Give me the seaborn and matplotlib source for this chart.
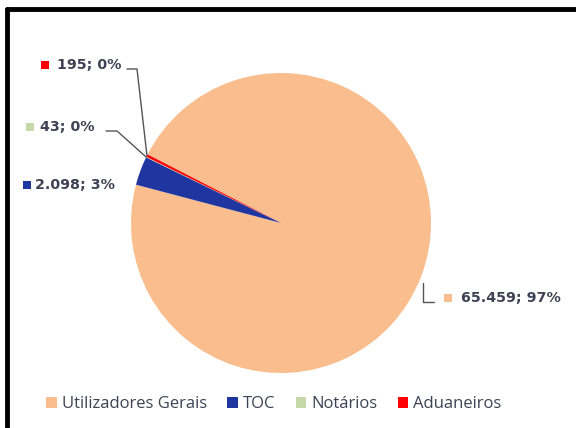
import matplotlib
matplotlib.use("Agg")
import matplotlib.pyplot as plt
import seaborn as sns
import numpy as np
from matplotlib.lines import Line2D
from matplotlib.patches import Patch

categories = ["Utilizadores Gerais", "TOC", "Notários", "Aduaneiros"]
values = [65459, 2098, 43, 195]
value_labels = ["65.459", "2.098", "43", "195"]
pct_labels = ["97%", "3%", "0%", "0%"]
colors = ["#F9BD8E", "#1F35A0", "#C4D8A8", "#FF0000"]

sns.set_style("white")
plt.rcParams["font.family"] = ["Open Sans", "DejaVu Sans"]

W, H = 576, 428
fig = plt.figure(figsize=(W / 100, H / 100), dpi=100)
fig.patch.set_facecolor("white")

# pie axes: center (281,223) r=150 px
cx, cy, r = 281, 223, 150
ax = fig.add_axes([(cx - r) / W, (H - cy - r) / H, 2 * r / W, 2 * r / H])
wedges, _ = ax.pie(values, colors=colors, startangle=152.8, counterclock=False,
                   radius=1.0, wedgeprops=dict(linewidth=0))
ax.set_xlim(-1, 1)
ax.set_ylim(-1, 1)
ax.set_aspect("equal")
ax.axis("off")

text_color = "#3F4254"

def px(x, y):
    return (x / W, 1 - y / H)

def edge_point(w):
    ang = np.deg2rad((w.theta1 + w.theta2) / 2)
    return px(cx + r * np.cos(ang), cy - r * np.sin(ang))

# label specs: (index, marker x, text x, y)
label_pos = {0: (448, 461, 298), 1: (27, 35, 185), 2: (30, 40, 127), 3: (45, 57, 65)}
for i, (mx, tx, ty) in label_pos.items():
    fig.patches.append(plt.Rectangle(px(mx - 4, ty + 4), 8 / W, 8 / H,
                                     transform=fig.transFigure, color=colors[i], lw=0))
    fig.text(*px(tx, ty), f"{value_labels[i]}; {pct_labels[i]}", ha="left", va="center",
             fontsize=10.3, fontweight="bold", color=text_color, family="DejaVu Sans")

lc = "#555555"
# leader lines
e3 = edge_point(wedges[3])
fig.add_artist(Line2D([px(127, 0)[0], px(137, 0)[0], e3[0]],
                      [px(0, 69)[1], px(0, 69)[1], e3[1]], color=lc, lw=1, transform=fig.transFigure))
e2 = edge_point(wedges[2])
fig.add_artist(Line2D([px(106, 0)[0], px(117, 0)[0], e2[0]],
                      [px(0, 131)[1], px(0, 131)[1], e2[1]], color=lc, lw=1, transform=fig.transFigure))
fig.add_artist(Line2D([px(423, 0)[0], px(423, 0)[0], px(434, 0)[0]],
                      [px(0, 283)[1], px(0, 302)[1], px(0, 302)[1]], color=lc, lw=1, transform=fig.transFigure))

# legend
handles = [Patch(facecolor=c, edgecolor="none") for c in colors]
leg = fig.legend(handles, categories, loc="center", bbox_to_anchor=px(274, 404), ncol=4,
                 frameon=False, fontsize=12, handlelength=0.65, handleheight=0.65,
                 handletextpad=0.3, columnspacing=1.2, labelcolor=text_color)

# frame (top and left border)
fig.add_artist(Line2D([px(7, 0)[0], 1.01], [px(0, 9)[1]] * 2, color="black", lw=3.5, transform=fig.transFigure))
fig.add_artist(Line2D([px(7, 0)[0]] * 2, [px(0, 9)[1], -0.01], color="black", lw=3.5, transform=fig.transFigure))

fig.savefig("out.png", dpi=100, facecolor="white")
